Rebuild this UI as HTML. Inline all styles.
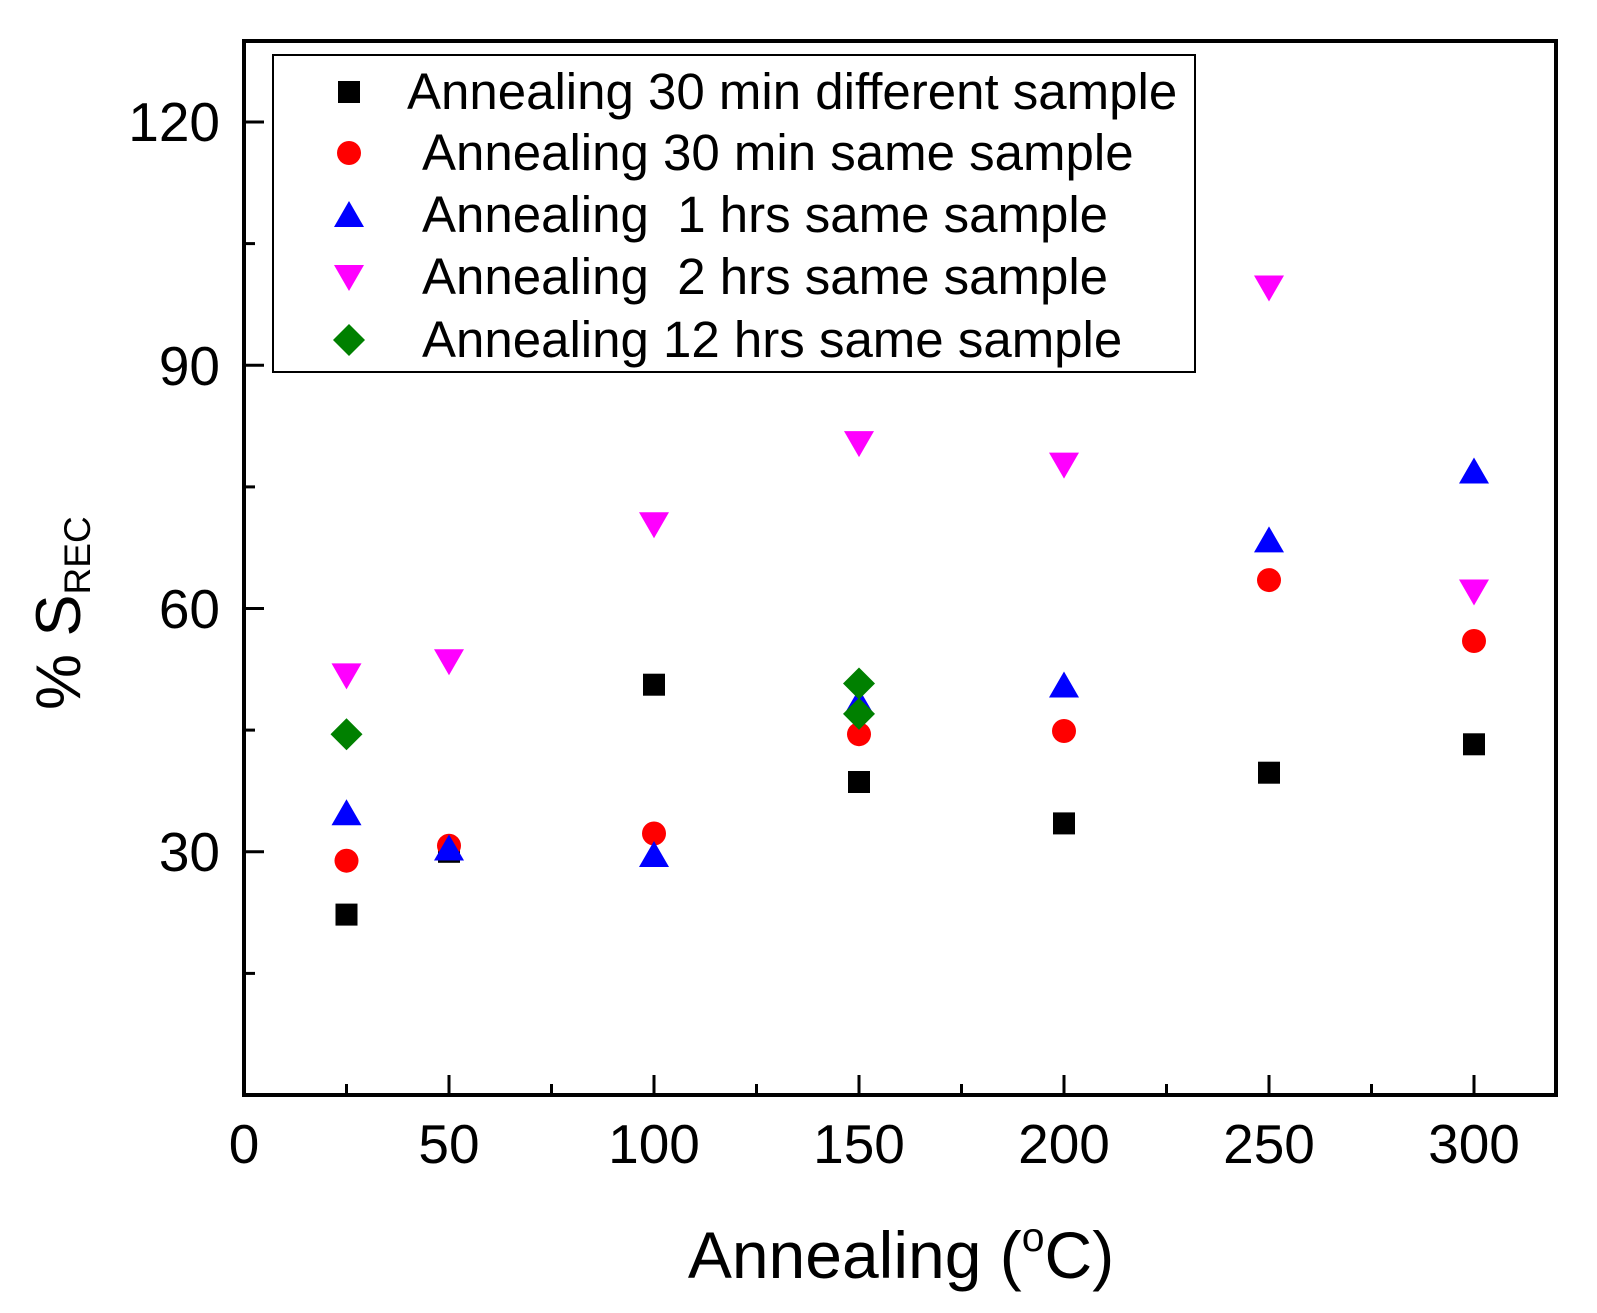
<!DOCTYPE html>
<html><head><meta charset="utf-8"><style>
html,body{margin:0;padding:0;background:#fff;}
svg{display:block;font-family:"Liberation Sans",Arial,sans-serif;}
</style></head><body>
<svg width="1597" height="1313" viewBox="0 0 1597 1313" xmlns="http://www.w3.org/2000/svg">
<rect width="1597" height="1313" fill="#fff"/>
<defs>
<rect id="sq" x="-11" y="-11" width="22" height="22" fill="#000"/>
<circle id="ci" r="12" fill="#ff0000"/>
<polygon id="tu" points="0,-14 15,12 -15,12" fill="#0000ff"/>
<polygon id="td" points="0,14 15,-12 -15,-12" fill="#ff00ff"/>
<polygon id="di" points="0,-16 16,0 0,16 -16,0" fill="#008000"/>
</defs>
<g stroke="#000" stroke-width="3">
<line x1="449" y1="1095" x2="449" y2="1075"/>
<line x1="654" y1="1095" x2="654" y2="1075"/>
<line x1="859" y1="1095" x2="859" y2="1075"/>
<line x1="1064" y1="1095" x2="1064" y2="1075"/>
<line x1="1269" y1="1095" x2="1269" y2="1075"/>
<line x1="1474" y1="1095" x2="1474" y2="1075"/>
<line x1="346.5" y1="1095" x2="346.5" y2="1084"/>
<line x1="551.5" y1="1095" x2="551.5" y2="1084"/>
<line x1="756.5" y1="1095" x2="756.5" y2="1084"/>
<line x1="961.5" y1="1095" x2="961.5" y2="1084"/>
<line x1="1166.5" y1="1095" x2="1166.5" y2="1084"/>
<line x1="1371.5" y1="1095" x2="1371.5" y2="1084"/>
<line x1="244" y1="851.8" x2="264" y2="851.8"/>
<line x1="244" y1="608.5" x2="264" y2="608.5"/>
<line x1="244" y1="365.3" x2="264" y2="365.3"/>
<line x1="244" y1="122" x2="264" y2="122"/>
<line x1="244" y1="973.4" x2="255" y2="973.4"/>
<line x1="244" y1="730.1" x2="255" y2="730.1"/>
<line x1="244" y1="486.9" x2="255" y2="486.9"/>
<line x1="244" y1="243.6" x2="255" y2="243.6"/>
</g>
<rect x="244" y="41" width="1312" height="1054" fill="none" stroke="#000" stroke-width="4"/>
<g font-size="55" text-anchor="middle" fill="#000">
<text x="244" y="1163">0</text>
<text x="449" y="1163">50</text>
<text x="654" y="1163">100</text>
<text x="859" y="1163">150</text>
<text x="1064" y="1163">200</text>
<text x="1269" y="1163">250</text>
<text x="1474" y="1163">300</text>
</g>
<g font-size="55" text-anchor="end" fill="#000">
<text x="220" y="871">30</text>
<text x="220" y="628">60</text>
<text x="220" y="385">90</text>
<text x="220" y="141">120</text>
</g>
<text x="901" y="1278" font-size="66" text-anchor="middle">Annealing (<tspan font-size="41" dy="-27">o</tspan><tspan dy="27">C)</tspan></text>
<text transform="translate(80,710) rotate(-90)" font-size="63">% S<tspan font-size="37" dy="10">REC</tspan></text>
<rect x="273" y="55" width="922" height="317" fill="#fff" stroke="#000" stroke-width="2"/>
<use href="#sq" x="349" y="92"/>
<use href="#ci" x="349" y="153"/>
<use href="#tu" x="349" y="215"/>
<use href="#td" x="349" y="277"/>
<use href="#di" x="349" y="340"/>
<g font-size="51" fill="#000">
<text x="407" y="109">Annealing 30 min different sample</text>
<text x="422" y="170">Annealing 30 min same sample</text>
<text x="422" y="232" xml:space="preserve">Annealing  1 hrs same sample</text>
<text x="422" y="294" xml:space="preserve">Annealing  2 hrs same sample</text>
<text x="422" y="357">Annealing 12 hrs same sample</text>
</g>
<use href="#sq" x="346.5" y="914.6"/>
<use href="#sq" x="449" y="851.8"/>
<use href="#sq" x="654" y="684.7"/>
<use href="#sq" x="859" y="782.0"/>
<use href="#sq" x="1064" y="823.4"/>
<use href="#sq" x="1269" y="772.7"/>
<use href="#sq" x="1474" y="744.3"/>
<use href="#ci" x="346.5" y="860.7"/>
<use href="#ci" x="449" y="845.7"/>
<use href="#ci" x="654" y="833.5"/>
<use href="#ci" x="859" y="734.2"/>
<use href="#ci" x="1064" y="731.0"/>
<use href="#ci" x="1269" y="580.1"/>
<use href="#ci" x="1474" y="641.0"/>
<use href="#tu" x="346.5" y="813.3"/>
<use href="#tu" x="449" y="848.5"/>
<use href="#tu" x="654" y="855.0"/>
<use href="#tu" x="859" y="702.6"/>
<use href="#tu" x="1064" y="685.5"/>
<use href="#tu" x="1269" y="540.4"/>
<use href="#tu" x="1474" y="471.5"/>
<use href="#td" x="346.5" y="675.4"/>
<use href="#td" x="449" y="661.2"/>
<use href="#td" x="654" y="524.2"/>
<use href="#td" x="859" y="443.1"/>
<use href="#td" x="1064" y="464.6"/>
<use href="#td" x="1269" y="287.5"/>
<use href="#td" x="1474" y="591.5"/>
<use href="#di" x="346.5" y="734.2"/>
<use href="#di" x="859" y="683.5"/>
<use href="#di" x="859" y="713.9"/>
</svg>
</body></html>
